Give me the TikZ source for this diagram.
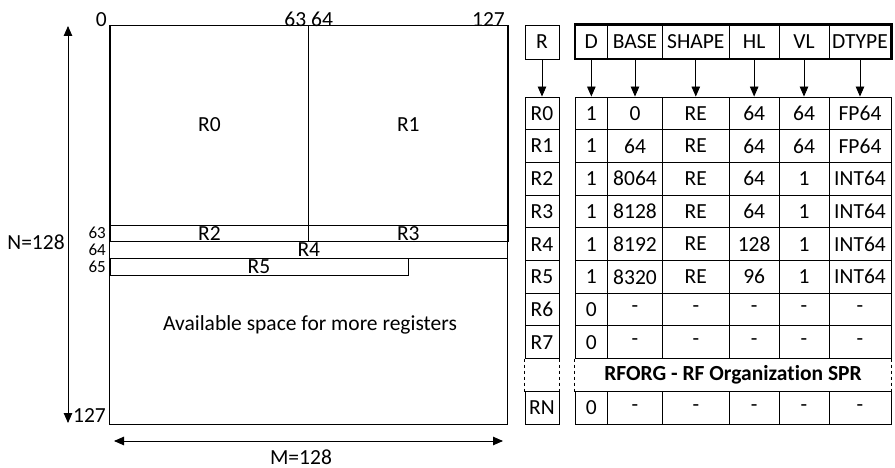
\documentclass[tikz,border=0pt]{standalone}
\usepackage{fontspec}
\setmainfont{Carlito}[Ligatures=NoCommon]
\usetikzlibrary{arrows.meta,positioning}

\begin{document}
\begin{tikzpicture}[
  x=1pt, y=-1pt,
  every node/.style={font=\fontsize{21.5}{24}\selectfont, inner sep=0pt},
  region/.style={draw, line width=0.8pt},
  cell/.style={draw, line width=0.8pt, minimum height=32.7pt},
  hcell/.style={draw, line width=0.8pt, minimum height=34pt},
  tick/.style={anchor=south east},
  rowlab/.style={anchor=east, font=\fontsize{17}{18}\selectfont},
  darrow/.style={-{Triangle[length=10pt,width=8.5pt]}, line width=0.9pt},
  >=Stealth
]
\useasboundingbox (0,0) rectangle (895,468);

% memory view
\node[region, minimum width=398pt, minimum height=399pt] (mem) at (308.8,224.5) {};
\node[region, minimum width=198.7pt, minimum height=200pt] (m0) at (209.4,125) {R0};
\node[region, minimum width=199.3pt, minimum height=200pt] (m1) at (408.3,125) {R1};
\node[region, minimum width=198.7pt, minimum height=16.7pt] (m2) at (209.4,233.3) {R2};
\node[region, minimum width=199.3pt, minimum height=16.7pt] (m3) at (408.3,233.3) {R3};
\node[region, minimum width=398pt, minimum height=16.7pt] (m4) at (308.8,250) {R4};
\node[region, minimum width=298pt, minimum height=16.7pt] (m5) at (259,266.7) {R5};
\node (avail) at (310,325) {Available space for more registers};

% indices
\node[tick] (c0) at (107,27) {0};
\node[anchor=south] (c63) at (308.7,27) {63 64};
\node[tick] (c127) at (505,27) {127};
\node[rowlab] (w63) at (106,233.3) {63};
\node[rowlab] (w64) at (106,250) {64};
\node[rowlab] (w65) at (106,266.7) {65};
\node[anchor=east] (w127) at (106,416) {127};

% dimensions
\coordinate (ntop) at (68,26);
\coordinate (nbot) at (68,423);
\draw[darrow, {Triangle[length=10pt,width=8.5pt]}-{Triangle[length=10pt,width=8.5pt]}] (ntop) -- (nbot);
\node (nlab) at (36,242) {N=128};
\coordinate (mleft) at (114,441);
\coordinate (mright) at (503,441);
\draw[darrow, {Triangle[length=10pt,width=8.5pt]}-{Triangle[length=10pt,width=8.5pt]}] (mleft) -- (mright);
\node (mlab) at (301,457) {M=128};

% register file organization
\node[hcell, minimum width=34pt] (hR) at (542,42) {R};
\foreach \name/\cx/\w in {D/591.35/32.7, BASE/635/54.6, SHAPE/695.8/67,
                          HL/754.15/49.7, VL/804/50, DTYPE/860/62} {
  \node[hcell, minimum width=\w pt] (h\name) at (\cx,42) {\name};
}
\draw[line width=2.2pt] (hD.north west) rectangle (hDTYPE.south east);

\foreach \r/\y/\vD/\vB/\vS/\vH/\vV/\vT in {
    0/113.3/1/0/RE/64/64/FP64,
    1/146/1/64/RE/64/64/FP64,
    2/178.7/1/8064/RE/64/1/INT64,
    3/211.4/1/8128/RE/64/1/INT64,
    4/244.1/1/8192/RE/128/1/INT64,
    5/276.8/1/8320/RE/96/1/INT64,
    6/309.5/0/-/-/-/-/-,
    7/342.2/0/-/-/-/-/-,
    N/408/0/-/-/-/-/-} {
  \node[cell, minimum width=34pt] (r\r) at (542,\y) {R\r};
  \node[cell, minimum width=32.7pt] (D\r) at (591.35,\y) {\vD};
  \node[cell, minimum width=54.6pt] (BASE\r) at (635,\y) {\vB};
  \node[cell, minimum width=67pt] (SHAPE\r) at (695.8,\y) {\vS};
  \node[cell, minimum width=49.7pt] (HL\r) at (754.15,\y) {\vH};
  \node[cell, minimum width=50pt] (VL\r) at (804,\y) {\vV};
  \node[cell, minimum width=62pt] (DTYPE\r) at (860,\y) {\vT};
}

% elided rows
\node[minimum width=34pt, minimum height=32.7pt] (rgap) at (542,375.1) {};
\node[minimum width=316pt, minimum height=32.7pt, font=\fontsize{21.5}{24}\selectfont\bfseries] (forg) at (733,375.1) {RFORG - RF Organization SPR};
\foreach \n in {rgap, forg} {
  \draw[dashed, line width=0.8pt] (\n.north west) -- (\n.south west);
  \draw[dashed, line width=0.8pt] (\n.north east) -- (\n.south east);
}

% field arrows
\draw[darrow] (hR.south) -- (r0.north);
\foreach \name in {D, BASE, SHAPE, HL, VL, DTYPE} {
  \draw[darrow] (h\name.south) -- (\name0.north);
}
\end{tikzpicture}
\end{document}
